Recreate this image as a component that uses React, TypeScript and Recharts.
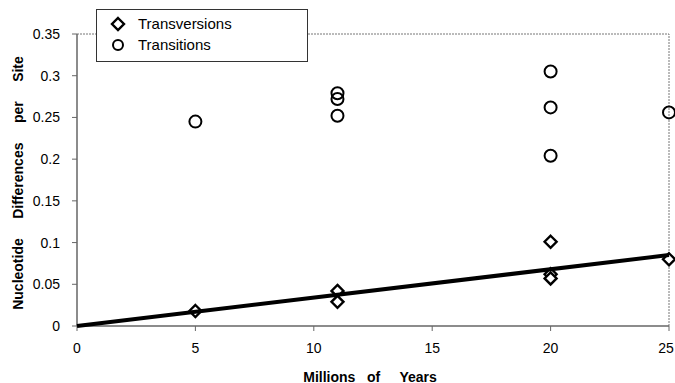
import React from 'react';
import { ComposedChart, Scatter, XAxis, YAxis, ReferenceLine, Legend, Label } from 'recharts';

const xTicks = [0, 5, 10, 15, 20, 25];
const yTicks = [0, 0.05, 0.1, 0.15, 0.2, 0.25, 0.3, 0.35];

const transversionX = [5, 11, 11, 20, 20, 20, 25];
const transversionY = [0.018, 0.042, 0.029, 0.101, 0.062, 0.057, 0.08];

const transitionX = [5, 11, 11, 11, 20, 20, 20, 25];
const transitionY = [0.245, 0.279, 0.272, 0.252, 0.305, 0.262, 0.204, 0.256];

const fitX = [0, 25];
const fitY = [0, 0.085];

const zip = (xs: number[], ys: number[]) => xs.map((x, i) => ({ x, y: ys[i] }));
const transversions = zip(transversionX, transversionY);
const transitions = zip(transitionX, transitionY);
const fit = zip(fitX, fitY);

const FONT = '"Liberation Sans", Arial, Helvetica, sans-serif';

const Diamond = (props: any) => {
  const { cx, cy } = props;
  if (cx == null || cy == null) return <g />;
  const s = 6;
  return (
    <polygon
      points={`${cx},${cy - s} ${cx + s},${cy} ${cx},${cy + s} ${cx - s},${cy}`}
      fill="#fff"
      stroke="#000"
      strokeWidth={2.4}
    />
  );
};

const Circle = (props: any) => {
  const { cx, cy } = props;
  if (cx == null || cy == null) return <g />;
  return <circle cx={cx} cy={cy} r={6} fill="none" stroke="#000" strokeWidth={2} />;
};

const Nothing = () => <g />;

const XTick = (props: any) => {
  const { x, y, payload } = props;
  const text = String(payload.value);
  // keep the last label inside the picture edge
  const shift = payload.value === 25 ? -3 : 0;
  return (
    <text
      x={x + shift}
      y={y}
      dy="0.71em"
      textAnchor="middle"
      fontFamily={FONT}
      fontSize={14}
      fill="#000"
    >
      {text}
    </text>
  );
};

const LegendBox = () => (
  <div
    style={{
      width: 212,
      height: 53,
      boxSizing: 'border-box',
      border: '1px solid #333',
      background: '#fff',
      fontFamily: FONT,
      fontSize: 15,
      color: '#000',
      position: 'relative',
    }}
  >
    <svg width={30} height={50} style={{ position: 'absolute', left: 6, top: 0 }}>
      <polygon points="15,8 21,14 15,20 9,14" fill="#fff" stroke="#000" strokeWidth={2.4} />
      <circle cx={15} cy={35} r={5} fill="none" stroke="#000" strokeWidth={2} />
    </svg>
    <div style={{ position: 'absolute', left: 41, top: 4, lineHeight: '20px' }}>Transversions</div>
    <div style={{ position: 'absolute', left: 41, top: 25, lineHeight: '20px' }}>Transitions</div>
  </div>
);

export default function App() {
  return (
    <div style={{ position: 'absolute', left: 0, top: 0, background: '#fff' }}>
      <ComposedChart
        width={675}
        height={383}
        margin={{ top: 34, right: 6, bottom: 0, left: 17 }}
        style={{ fontFamily: FONT }}
      >
        <XAxis
          type="number"
          dataKey="x"
          domain={[0, 25]}
          ticks={xTicks}
          interval={0}
          height={57}
          tickSize={5}
          tickMargin={12}
          tick={<XTick />}
          axisLine={{ stroke: '#666', strokeWidth: 1.5 }}
          tickLine={{ stroke: '#666' }}
        >
          <Label
            content={({ viewBox }: any) => (
              <text
                x={viewBox.x + viewBox.width / 2 - 3}
                y={viewBox.y + viewBox.height - 1.5}
                textAnchor="middle"
                fontFamily={FONT}
                fontWeight="bold"
                fontSize={14}
                fill="#000"
                style={{ whiteSpace: 'pre' }}
              >
                {'Millions   of     Years'}
              </text>
            )}
          />
        </XAxis>
        <YAxis
          type="number"
          dataKey="y"
          domain={[0, 0.35]}
          ticks={yTicks}
          interval={0}
          width={60}
          tickSize={5}
          tickMargin={12}
          tickFormatter={(v: number) => String(v)}
          tick={{ fill: '#000', fontSize: 14, fontFamily: FONT }}
          axisLine={{ stroke: '#666', strokeWidth: 1.5 }}
          tickLine={{ stroke: '#666' }}
        >
          <Label
            content={({ viewBox }: any) => {
              const cx = viewBox.x + 1;
              const cy = viewBox.y + viewBox.height / 2 + 3;
              return (
                <text
                  x={cx}
                  y={cy}
                  transform={`rotate(-90, ${cx}, ${cy})`}
                  textAnchor="middle"
                  dominantBaseline="central"
                  fontFamily={FONT}
                  fontWeight="bold"
                  fontSize={14}
                  fill="#000"
                  style={{ whiteSpace: 'pre' }}
                >
                  {'Nucleotide     Differences     per     Site'}
                </text>
              );
            }}
          />
        </YAxis>
        <ReferenceLine y={0.35} stroke="#777" strokeWidth={1} strokeDasharray="2 1" />
        <ReferenceLine x={25} stroke="#777" strokeWidth={1} strokeDasharray="2 1" />
        <Scatter name="Transitions" data={transitions} shape={<Circle />} isAnimationActive={false} />
        <Scatter name="Transversions" data={transversions} shape={<Diamond />} isAnimationActive={false} />
        <Scatter
          name="fit"
          data={fit}
          line={{ stroke: '#000', strokeWidth: 4 }}
          shape={<Nothing />}
          isAnimationActive={false}
          legendType="none"
        />
        <Legend
          layout="horizontal"
          verticalAlign="middle"
          align="center"
          content={<LegendBox />}
          wrapperStyle={{ left: 96, top: 9, width: 212, height: 53 }}
        />
      </ComposedChart>
    </div>
  );
}
